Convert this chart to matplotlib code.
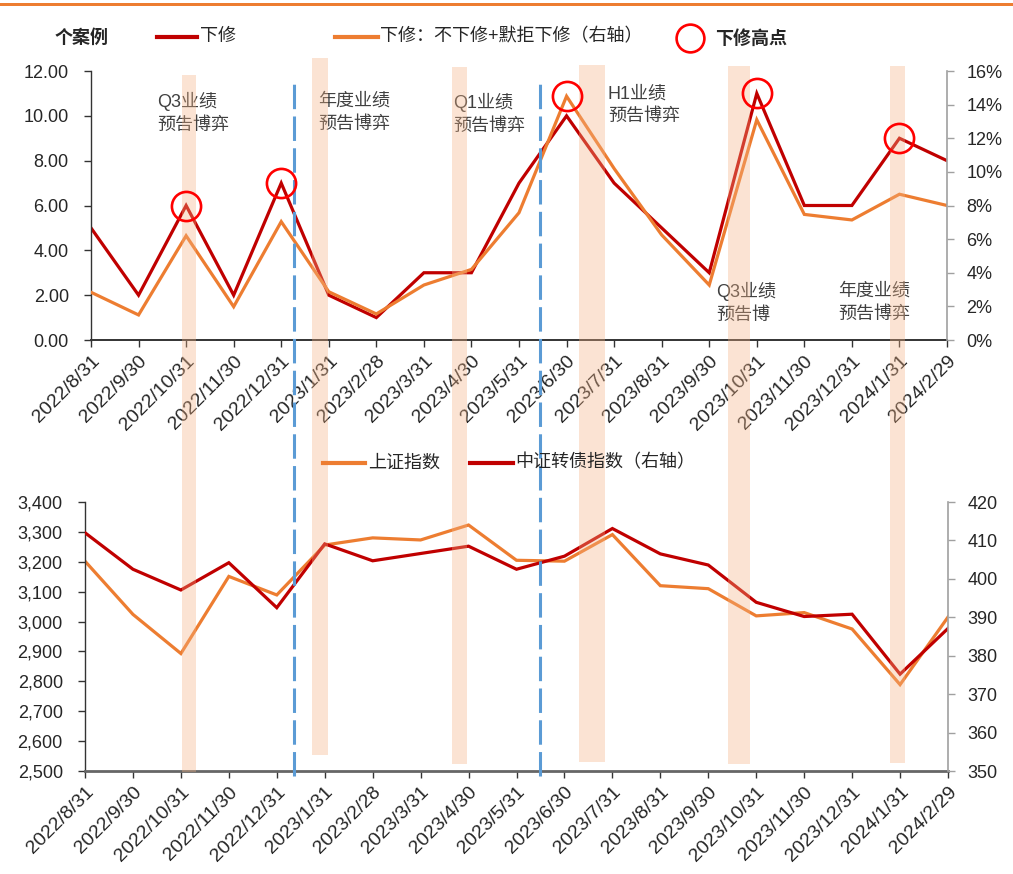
import matplotlib
matplotlib.use('Agg')
import matplotlib.pyplot as plt
from matplotlib.lines import Line2D
from matplotlib.patches import Rectangle
from matplotlib.transforms import blended_transform_factory
import numpy as np

plt.rcParams['font.family'] = ['Liberation Sans', 'Noto Sans CJK SC']

# month-end dates
dates = ['2022/8/31', '2022/9/30', '2022/10/31', '2022/11/30', '2022/12/31',
         '2023/1/31', '2023/2/28', '2023/3/31', '2023/4/30', '2023/5/31',
         '2023/6/30', '2023/7/31', '2023/8/31', '2023/9/30', '2023/10/31',
         '2023/11/30', '2023/12/31', '2024/1/31', '2024/2/29']

# 下修 cases (count) and 下修 / (不下修 + 默拒下修) ratio in %
down_cnt = [5, 2, 6, 2, 7, 2, 1, 3, 3, 7, 10, 7, 5, 3, 11, 6, 6, 9, 8]
down_ratio = [2.84, 1.49, 6.2, 1.98, 7.04, 2.87, 1.55, 3.27, 4.2, 7.57,
              14.5, 10.2, 6.25, 3.27, 13.1, 7.47, 7.14, 8.67, 8.0]
peak_idx = [2, 4, 10, 14, 17]

# 上证指数 and 中证转债指数
sh_index = [3202, 3024, 2893, 3151, 3089, 3256, 3280, 3273, 3323, 3205,
            3202, 3291, 3120, 3110, 3019, 3030, 2975, 2789, 3015]
cb_index = [412.0, 402.5, 397.1, 404.2, 392.5, 409.1, 404.7, 406.6, 408.5, 402.5,
            405.9, 413.1, 406.5, 403.6, 393.9, 390.2, 390.8, 375.2, 387.1]

# earnings-forecast windows (x in index units) and their labels
band_x0 = [1.91, 4.65, 7.59, 10.26, 13.39, 16.80]
band_x1 = [2.21, 4.98, 7.91, 10.81, 13.86, 17.12]
band_top = [75, 58, 67, 65, 66, 66]
band_bot = [772, 755, 764, 762, 764, 763]
notes = ['Q3业绩\n预告博弈', '年度业绩\n预告博弈', 'Q1业绩\n预告博弈',
         'H1业绩\n预告博弈', 'Q3业绩\n预告博', '年度业绩\n预告博弈']
note_x = [1.39, 4.77, 7.61, 10.87, 13.14, 15.71]
note_y = [11.06, 11.02, 11.02, 11.37, 2.6, 2.55]
split_x = [4.27, 9.44]

RED = '#C00000'
ORANGE = '#ED7D31'
BLUE = '#5B9BD5'
BAND = '#F4B183'
TXT = '#262626'

W, H = 1013, 874
fig = plt.figure(figsize=(W / 100, H / 100), dpi=100)


def px(x, y):
    return x / W, 1 - y / H


x = np.arange(len(dates))

# ---- top chart
ax1 = fig.add_axes([91 / W, 1 - 340 / H, 856 / W, 269 / H])
ax1r = ax1.twinx()
ax1.plot(x, down_cnt, color=RED, lw=2.3, solid_joinstyle='miter')
ax1r.plot(x, down_ratio, color=ORANGE, lw=2.3, solid_joinstyle='miter')
ax1.set_xlim(0, 18)
ax1.set_ylim(0, 12)
ax1r.set_ylim(0, 16)
ax1.set_yticks(np.arange(0, 12.1, 2))
ax1.set_yticklabels(['%.2f' % v for v in np.arange(0, 12.1, 2)])
ax1r.set_yticks(np.arange(0, 16.1, 2))
ax1r.set_yticklabels(['%d%%' % v for v in np.arange(0, 16.1, 2)])

for i, t in enumerate(notes):
    ax1.text(note_x[i], note_y[i], t, ha='left', va='top', fontsize=13,
             color='#404040', linespacing=1.45)

# ---- bottom chart
ax2 = fig.add_axes([85 / W, 1 - 771 / H, 863 / W, 269 / H])
ax2r = ax2.twinx()
ax2.plot(x, sh_index, color=ORANGE, lw=2.3, solid_joinstyle='miter')
ax2r.plot(x, cb_index, color=RED, lw=2.3, solid_joinstyle='miter')
ax2.set_xlim(0, 18)
ax2.set_ylim(2500, 3400)
ax2r.set_ylim(350, 420)
ax2.set_yticks(np.arange(2500, 3401, 100))
ax2.set_yticklabels(['{:,}'.format(v) for v in range(2500, 3401, 100)])
ax2r.set_yticks(np.arange(350, 421, 10))

for a, ar in [(ax1, ax1r), (ax2, ax2r)]:
    a.set_xticks(x)
    a.set_xticklabels(dates, rotation=45, ha='right', va='top',
                      rotation_mode='anchor', fontsize=14, color=TXT)
    a.tick_params(axis='x', length=5, width=1, pad=4, color='#333333')
    a.tick_params(axis='y', length=5, width=1, pad=11, labelsize=13,
                  labelcolor=TXT, color='#333333')
    ar.tick_params(axis='y', length=5, width=1, pad=9, labelsize=13,
                   labelcolor=TXT, color='#A0A0A0')
    a.spines['top'].set_visible(False)
    a.spines['right'].set_visible(False)
    for s in ['top', 'left', 'bottom']:
        ar.spines[s].set_visible(False)
    ar.spines['right'].set_color('#A0A0A0')
    ar.spines['right'].set_linewidth(1.2)
    a.spines['left'].set_color('#333333')
    a.spines['left'].set_linewidth(1.0)
    a.spines['bottom'].set_color('#333333')
    a.spines['bottom'].set_linewidth(1.4)
ax2.spines['bottom'].set_color('#666666')
ax2.spines['bottom'].set_linewidth(2)

# shaded windows spanning both charts
bt = blended_transform_factory(ax1.transData, fig.transFigure)
for i in range(len(band_x0)):
    r = Rectangle((band_x0[i], 1 - band_bot[i] / H), band_x1[i] - band_x0[i],
                  (band_bot[i] - band_top[i]) / H, transform=bt,
                  facecolor=BAND, edgecolor='none', alpha=0.35, zorder=2)
    fig.add_artist(r)

# regime split lines
for sx in split_x:
    ln = Line2D([sx, sx], [1 - 776 / H, 1 - 78 / H], transform=bt, color=BLUE,
                lw=2.2, dashes=(8, 2.4), zorder=3)
    fig.add_artist(ln)

# highlight circles on the peaks
peak_y = [max(down_cnt[i], down_ratio[i] * 0.75) for i in peak_idx]
circ = Line2D(peak_idx, peak_y, transform=ax1.transData, ls='none', marker='o',
              ms=21, mfc='none', mec='#FF0000', mew=1.9, zorder=4)
fig.add_artist(circ)

# top legend
fig.add_artist(Rectangle((0, 1 - 6 / H), 1, 2.5 / H, transform=fig.transFigure,
                         facecolor=ORANGE, edgecolor='none'))
fig.text(*px(55, 38), '个案例', ha='left', va='center', fontsize=13,
         weight='bold', color=TXT)
fig.add_artist(Line2D([157 / W, 197 / W], [1 - 37 / H] * 2, color=RED, lw=3))
fig.text(*px(200, 37), '下修', ha='left', va='center', fontsize=13, color=TXT)
fig.add_artist(Line2D([335 / W, 378 / W], [1 - 37 / H] * 2, color=ORANGE, lw=3))
fig.text(*px(380, 37), '下修：不下修+默拒下修（右轴）', ha='left', va='center',
         fontsize=13, color=TXT)
fig.add_artist(Line2D([690 / W], [1 - 38 / H], ls='none', marker='o', ms=20,
                      mfc='none', mec='#FF0000', mew=1.9))
fig.text(*px(715, 39), '下修高点', ha='left', va='center', fontsize=13,
         weight='bold', color=TXT)

# bottom legend
fig.add_artist(Line2D([323 / W, 365 / W], [1 - 463 / H] * 2, color=ORANGE, lw=3))
fig.text(*px(368, 463), '上证指数', ha='left', va='center', fontsize=13, color=TXT)
fig.add_artist(Line2D([470 / W, 513 / W], [1 - 463 / H] * 2, color=RED, lw=3))
fig.text(*px(515, 463), '中证转债指数（右轴）', ha='left', va='center',
         fontsize=13, color=TXT)

fig.savefig('out.png', dpi=100)
